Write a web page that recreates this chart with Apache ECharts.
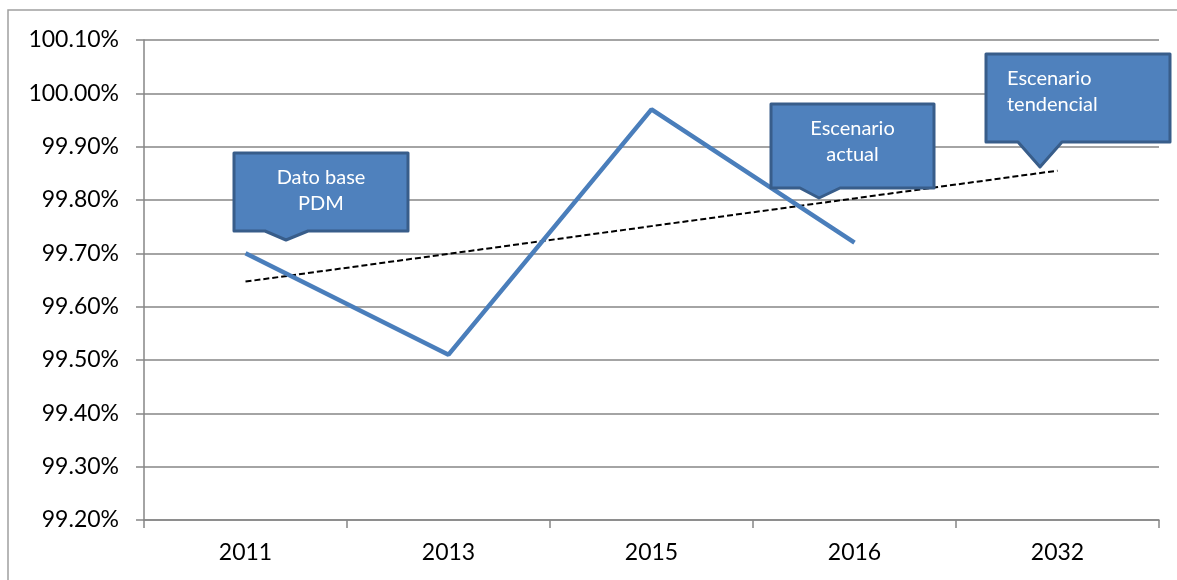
<!DOCTYPE html>
<html>
<head>
<meta charset="utf-8">
<script src="https://cdn.jsdelivr.net/npm/echarts@6/dist/echarts.min.js"></script>
<style>
  html, body { margin: 0; padding: 0; background: #fff; }
  #chart { width: 1177px; height: 580px; }
</style>
</head>
<body>
<div id="chart"></div>
<script>
// datos
var years = ['2011', '2013', '2015', '2016', '2032'];
var actual = [99.70, 99.51, 99.97, 99.72, null];
var tendencia = [99.647, 99.699, 99.751, 99.803, 99.855];
var yMin = 99.2, yMax = 100.1, yStep = 0.1;

var fuente = 'Lato';
var azul = '#4f81bd', borde = '#385d8a';

// globo de texto con pico abajo
function callout(x1, y1, x2, y2, p1, p2, tipX, tipY, lineas, alinear) {
    var pts = [[x1, y1], [x2, y1], [x2, y2], [p2, y2], [tipX, tipY], [p1, y2], [x1, y2]];
    var tx = alinear === 'left' ? x1 + 21 : (x1 + x2) / 2;
    return [
        {
            type: 'polygon',
            shape: { points: pts },
            style: { fill: azul, stroke: borde, lineWidth: 3, lineJoin: 'round' },
            z: 100
        },
        {
            type: 'text',
            x: tx,
            y: y1 + 12,
            style: {
                text: lineas.join('\n'),
                fill: '#fff',
                font: '20px ' + fuente,
                lineHeight: 26,
                align: alinear || 'center',
                verticalAlign: 'top'
            },
            z: 101
        }
    ];
}

var chart = echarts.init(document.getElementById('chart'));
chart.setOption({
    animation: false,
    grid: { left: 144, right: 18, top: 40, bottom: 60 },
    xAxis: {
        type: 'category',
        data: years,
        boundaryGap: true,
        axisLine: { lineStyle: { color: '#868686', width: 1.5 } },
        axisTick: { show: true, length: 8, lineStyle: { color: '#868686', width: 1.5 } },
        axisLabel: { color: '#000', fontFamily: fuente, fontSize: 23, margin: 21 }
    },
    yAxis: {
        type: 'value',
        min: yMin,
        max: yMax,
        interval: yStep,
        axisLine: { show: true, lineStyle: { color: '#868686', width: 1.5 } },
        axisTick: { show: true, length: 8, lineStyle: { color: '#868686', width: 1.5 } },
        splitLine: { lineStyle: { color: '#868686', width: 1.5 } },
        axisLabel: {
            color: '#000', fontFamily: fuente, fontSize: 23, margin: 25,
            formatter: function (v) { return v.toFixed(2) + '%'; }
        }
    },
    series: [
        {
            type: 'line',
            data: actual,
            symbol: 'none',
            lineStyle: { color: '#4a7ebb', width: 4.5 },
            z: 3
        },
        {
            type: 'line',
            data: tendencia,
            symbol: 'none',
            lineStyle: { color: '#000', width: 2, type: [6, 3] },
            z: 2
        }
    ],
    graphic: [
        {
            type: 'rect',
            shape: { x: 8, y: 10, width: 1180, height: 590 },
            style: { fill: null, stroke: '#a0a0a0', lineWidth: 1.5 },
            silent: true
        }
    ].concat(
        callout(234, 153, 408, 231, 265, 308, 286, 240, ['Dato base', 'PDM']),
        callout(771, 104, 934, 188, 800, 840, 819, 198, ['Escenario', 'actual']),
        callout(986, 54, 1170, 142, 1018, 1062, 1040, 167, ['Escenario', 'tendencial'], 'left')
    )
});
</script>
</body>
</html>
